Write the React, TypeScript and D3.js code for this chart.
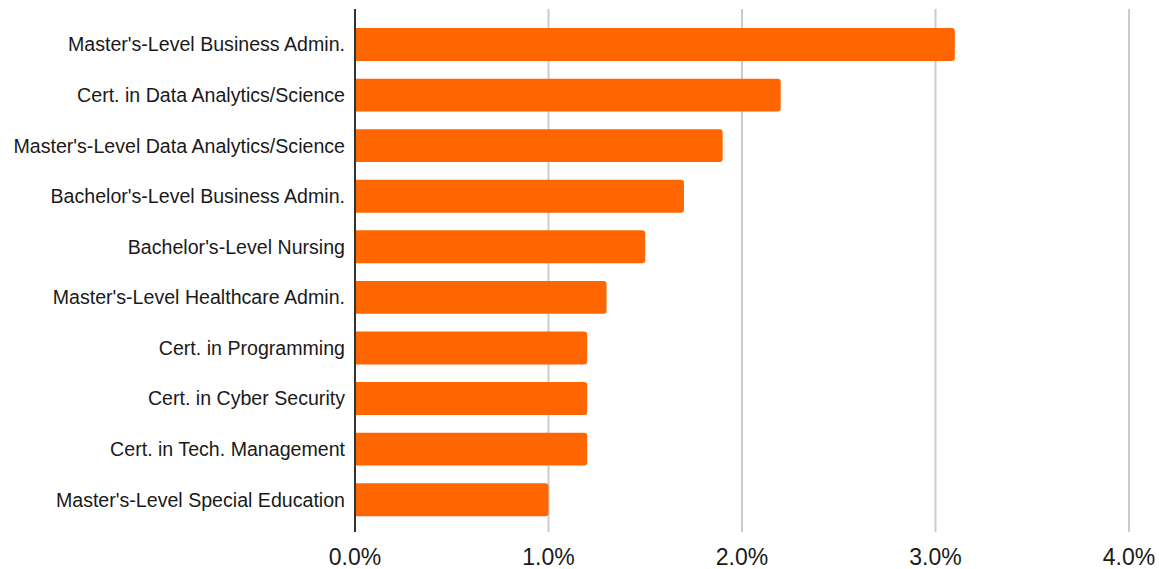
import React from "react";
import * as d3 from "d3";

const categories = [
  "Master's-Level Business Admin.",
  "Cert. in Data Analytics/Science",
  "Master's-Level Data Analytics/Science",
  "Bachelor's-Level Business Admin.",
  "Bachelor's-Level Nursing",
  "Master's-Level Healthcare Admin.",
  "Cert. in Programming",
  "Cert. in Cyber Security",
  "Cert. in Tech. Management",
  "Master's-Level Special Education",
];
const values = [3.1, 2.2, 1.9, 1.7, 1.5, 1.3, 1.2, 1.2, 1.2, 1.0];
const ticks = [0, 1, 2, 3, 4];

const W = 1159;
const H = 569;
const x0 = 355;
const x1 = 1129;
const top = 9;
const bottom = 532;

export default function App() {
  const x = d3.scaleLinear().domain([0, 4]).range([x0, x1]);
  const y = d3
    .scaleBand<string>()
    .domain(categories)
    .range([19.2, 525])
    .paddingInner(0.35)
    .paddingOuter(0.175);
  const bw = y.bandwidth();
  const r = 3;
  const barPath = (v: number, yy: number) => {
    const xe = x(v);
    const p = d3.path();
    p.moveTo(x0, yy);
    p.lineTo(xe - r, yy);
    p.arcTo(xe, yy, xe, yy + r, r);
    p.lineTo(xe, yy + bw - r);
    p.arcTo(xe, yy + bw, xe - r, yy + bw, r);
    p.lineTo(x0, yy + bw);
    p.closePath();
    return p.toString();
  };
  return (
    <svg
      width={W}
      height={H}
      style={{ position: "absolute", left: 0, top: 0, background: "#fff" }}
      fontFamily="'Liberation Sans', Arial, sans-serif"
    >
      {ticks.slice(1).map((t) => (
        <line
          key={t}
          x1={x(t)}
          x2={x(t)}
          y1={top}
          y2={bottom}
          stroke="#cccccc"
          strokeWidth={2}
        />
      ))}
      {categories.map((c, i) => (
        <path key={c} d={barPath(values[i], y(c)!)} fill="#ff6600" />
      ))}
      <line x1={x0} x2={x0} y1={top} y2={bottom} stroke="#333333" strokeWidth={2} />
      {categories.map((c) => (
        <text
          key={c}
          x={345}
          y={y(c)! + bw / 2}
          dy="0.35em"
          textAnchor="end"
          fontSize={19.6}
          fill="#1a1a1a"
        >
          {c}
        </text>
      ))}
      {ticks.map((t) => (
        <text
          key={t}
          x={x(t)}
          y={565}
          textAnchor="middle"
          fontSize={23}
          fill="#1a1a1a"
        >
          {d3.format(".1f")(t) + "%"}
        </text>
      ))}
    </svg>
  );
}
